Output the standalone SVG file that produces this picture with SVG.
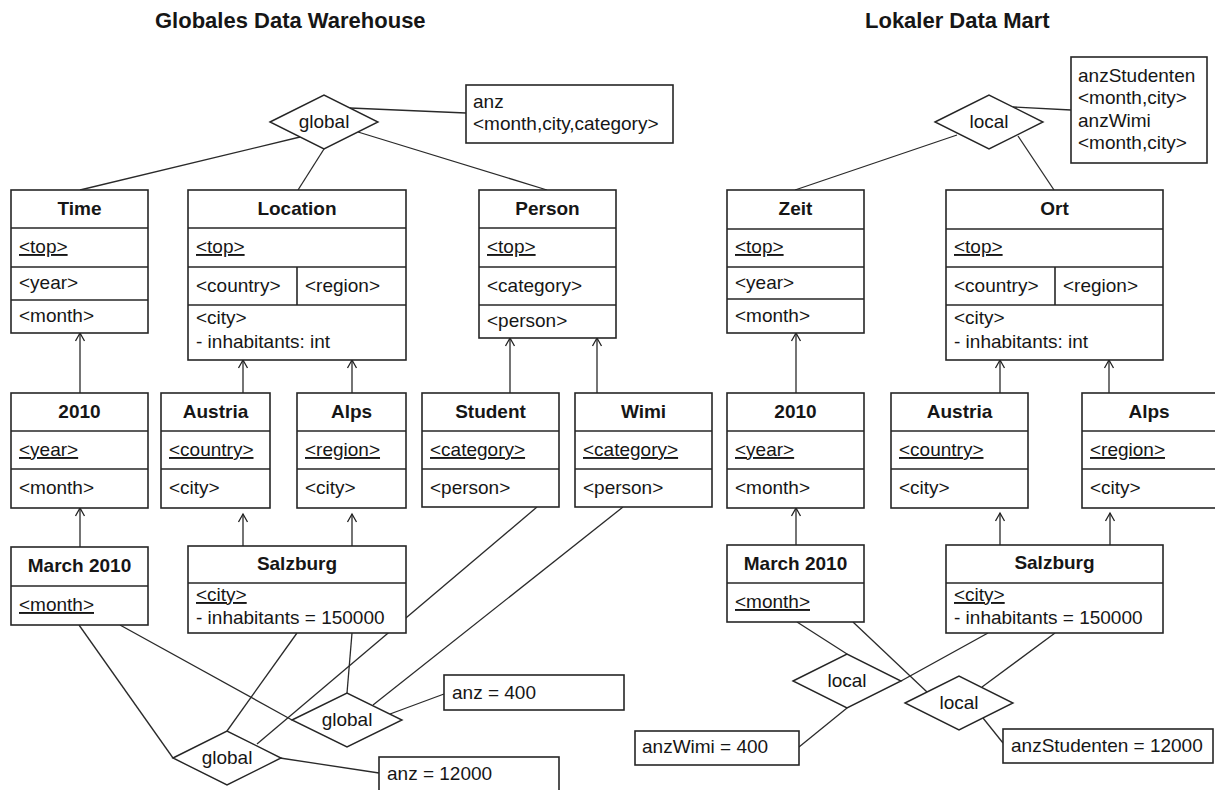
<svg xmlns="http://www.w3.org/2000/svg" width="1215" height="790" viewBox="0 0 1215 790">
  <style>
    text { font-family: "Liberation Sans", Arial, sans-serif; font-size: 19px; fill: #161616; }
    .title { font-size: 22px; font-weight: bold; }
    .h { font-weight: bold; text-anchor: middle; }
    .c { text-anchor: middle; }
    .u { text-decoration: underline; }
    .box { fill: #fff; stroke: #262626; stroke-width: 1.6; }
    .sep { stroke: #262626; stroke-width: 1.6; }
    .dia { fill: #fff; stroke: #262626; stroke-width: 1.4; }
    .conn line { stroke: #2a2a2a; stroke-width: 1.3; fill: none; }
    .arr { marker-end: url(#open); }
  </style>
  <defs>
    <marker id="open" viewBox="-10 -6 12 12" refX="0" refY="0" markerWidth="12" markerHeight="12" orient="auto" markerUnits="userSpaceOnUse">
      <path d="M-8,-4.5 L0,0 L-8,4.5" fill="none" stroke="#222" stroke-width="1.3"/>
    </marker>
  </defs>
  <rect width="1215" height="790" fill="#fff"/>

  <!-- headings -->
  <text x="155" y="28" class="title">Globales Data Warehouse</text>
  <text x="865" y="28" class="title">Lokaler Data Mart</text>

  <!-- connectors -->
  <g id="connectors" class="conn">
    <!-- global schema -->
    <line x1="350" y1="108" x2="466" y2="113"/>
    <line x1="300" y1="137" x2="80" y2="190"/>
    <line x1="324" y1="149" x2="298" y2="190"/>
    <line x1="358" y1="132" x2="547" y2="190"/>
    <line class="arr" x1="80" y1="393" x2="80" y2="333"/>
    <line class="arr" x1="243" y1="393" x2="243" y2="360"/>
    <line class="arr" x1="352" y1="393" x2="352" y2="360"/>
    <line class="arr" x1="510" y1="393" x2="510" y2="338"/>
    <line class="arr" x1="597" y1="393" x2="597" y2="338"/>
    <line class="arr" x1="80" y1="547" x2="80" y2="508"/>
    <line class="arr" x1="243" y1="546" x2="243" y2="514"/>
    <line class="arr" x1="352" y1="546" x2="352" y2="514"/>
    <line x1="79" y1="625" x2="173" y2="758"/>
    <line x1="120" y1="625" x2="292" y2="720"/>
    <line x1="297" y1="633" x2="227" y2="731"/>
    <line x1="352" y1="633" x2="347" y2="693"/>
    <line x1="537" y1="507" x2="257" y2="744"/>
    <line x1="623" y1="507" x2="373" y2="705"/>
    <line x1="390" y1="714" x2="444" y2="694"/>
    <line x1="280" y1="758" x2="379" y2="773"/>
    <!-- local schema -->
    <line x1="1013" y1="107" x2="1071" y2="110"/>
    <line x1="957" y1="135" x2="795" y2="190"/>
    <line x1="1018" y1="136" x2="1054" y2="190"/>
    <line class="arr" x1="796" y1="393" x2="796" y2="333"/>
    <line class="arr" x1="1000" y1="393" x2="1000" y2="360"/>
    <line class="arr" x1="1109" y1="393" x2="1109" y2="360"/>
    <line class="arr" x1="796" y1="545" x2="796" y2="508"/>
    <line class="arr" x1="1000" y1="545" x2="1000" y2="513"/>
    <line class="arr" x1="1110" y1="545" x2="1110" y2="513"/>
    <line x1="797" y1="622" x2="847" y2="654"/>
    <line x1="853" y1="622" x2="927" y2="692"/>
    <line x1="988" y1="633" x2="901" y2="681"/>
    <line x1="1055" y1="633" x2="982" y2="687"/>
    <line x1="983" y1="718" x2="1003" y2="743"/>
    <line x1="847" y1="708" x2="799" y2="747"/>
  </g>

  <!-- ===== global data warehouse ===== -->
  <g id="g-fact">
    <polygon class="dia" points="270,122 324,95 378,122 324,149"/>
    <text x="324" y="128" class="c">global</text>
  </g>
  <g id="g-fact-note">
    <rect class="box" x="466" y="85" width="207" height="58"/>
    <text x="473" y="108">anz</text>
    <text x="473" y="130">&lt;month,city,category&gt;</text>
  </g>

  <g id="g-time">
    <rect class="box" x="11" y="190" width="137" height="143"/>
    <line class="sep" x1="11" y1="228" x2="148" y2="228"/>
    <line class="sep" x1="11" y1="267" x2="148" y2="267"/>
    <line class="sep" x1="11" y1="300" x2="148" y2="300"/>
    <text x="79.5" y="215" class="h">Time</text>
    <text x="19" y="253" class="u">&lt;top&gt;</text>
    <text x="19" y="289">&lt;year&gt;</text>
    <text x="19" y="322">&lt;month&gt;</text>
  </g>

  <g id="g-location">
    <rect class="box" x="188" y="190" width="218" height="170"/>
    <line class="sep" x1="188" y1="228" x2="406" y2="228"/>
    <line class="sep" x1="188" y1="267" x2="406" y2="267"/>
    <line class="sep" x1="188" y1="305" x2="406" y2="305"/>
    <line class="sep" x1="297" y1="267" x2="297" y2="305"/>
    <text x="297" y="215" class="h">Location</text>
    <text x="196" y="253" class="u">&lt;top&gt;</text>
    <text x="196" y="292">&lt;country&gt;</text>
    <text x="305" y="292">&lt;region&gt;</text>
    <text x="196" y="324">&lt;city&gt;</text>
    <text x="196" y="348">- inhabitants: int</text>
  </g>

  <g id="g-person">
    <rect class="box" x="479" y="190" width="137" height="148"/>
    <line class="sep" x1="479" y1="228" x2="616" y2="228"/>
    <line class="sep" x1="479" y1="267" x2="616" y2="267"/>
    <line class="sep" x1="479" y1="305" x2="616" y2="305"/>
    <text x="547.5" y="215" class="h">Person</text>
    <text x="487" y="253" class="u">&lt;top&gt;</text>
    <text x="487" y="292">&lt;category&gt;</text>
    <text x="487" y="327">&lt;person&gt;</text>
  </g>

  <g id="g-2010">
    <rect class="box" x="11" y="393" width="137" height="115"/>
    <line class="sep" x1="11" y1="431" x2="148" y2="431"/>
    <line class="sep" x1="11" y1="469" x2="148" y2="469"/>
    <text x="79.5" y="418" class="h">2010</text>
    <text x="19" y="456" class="u">&lt;year&gt;</text>
    <text x="19" y="494">&lt;month&gt;</text>
  </g>

  <g id="g-austria">
    <rect class="box" x="161" y="393" width="109" height="115"/>
    <line class="sep" x1="161" y1="431" x2="270" y2="431"/>
    <line class="sep" x1="161" y1="469" x2="270" y2="469"/>
    <text x="215.5" y="418" class="h">Austria</text>
    <text x="169" y="456" class="u">&lt;country&gt;</text>
    <text x="169" y="494">&lt;city&gt;</text>
  </g>

  <g id="g-alps">
    <rect class="box" x="297" y="393" width="109" height="115"/>
    <line class="sep" x1="297" y1="431" x2="406" y2="431"/>
    <line class="sep" x1="297" y1="469" x2="406" y2="469"/>
    <text x="351.5" y="418" class="h">Alps</text>
    <text x="305" y="456" class="u">&lt;region&gt;</text>
    <text x="305" y="494">&lt;city&gt;</text>
  </g>

  <g id="g-student">
    <rect class="box" x="422" y="393" width="137" height="114"/>
    <line class="sep" x1="422" y1="431" x2="559" y2="431"/>
    <line class="sep" x1="422" y1="469" x2="559" y2="469"/>
    <text x="490.5" y="418" class="h">Student</text>
    <text x="430" y="456" class="u">&lt;category&gt;</text>
    <text x="430" y="494">&lt;person&gt;</text>
  </g>

  <g id="g-wimi">
    <rect class="box" x="575" y="393" width="137" height="114"/>
    <line class="sep" x1="575" y1="431" x2="712" y2="431"/>
    <line class="sep" x1="575" y1="469" x2="712" y2="469"/>
    <text x="643.5" y="418" class="h">Wimi</text>
    <text x="583" y="456" class="u">&lt;category&gt;</text>
    <text x="583" y="494">&lt;person&gt;</text>
  </g>

  <g id="g-march">
    <rect class="box" x="11" y="547" width="137" height="78"/>
    <line class="sep" x1="11" y1="586" x2="148" y2="586"/>
    <text x="79.5" y="572" class="h">March 2010</text>
    <text x="19" y="611" class="u">&lt;month&gt;</text>
  </g>

  <g id="g-salzburg">
    <rect class="box" x="188" y="546" width="218" height="87"/>
    <line class="sep" x1="188" y1="583" x2="406" y2="583"/>
    <text x="297" y="570" class="h">Salzburg</text>
    <text x="196" y="601" class="u">&lt;city&gt;</text>
    <text x="196" y="624">- inhabitants = 150000</text>
  </g>

  <g id="g-fact-wimi">
    <polygon class="dia" points="292,720 347,693 402,720 347,747"/>
    <text x="347" y="726" class="c">global</text>
  </g>
  <g id="g-fact-student">
    <polygon class="dia" points="173,758 227,731 281,758 227,785"/>
    <text x="227" y="764" class="c">global</text>
  </g>
  <g id="g-note-400">
    <rect class="box" x="444" y="675" width="180" height="35"/>
    <text x="452" y="699">anz = 400</text>
  </g>
  <g id="g-note-12000">
    <rect class="box" x="379" y="757" width="180" height="40"/>
    <text x="387" y="780">anz = 12000</text>
  </g>

  <!-- ===== local data mart ===== -->
  <g id="l-fact">
    <polygon class="dia" points="935,122 989,95 1043,122 989,149"/>
    <text x="989" y="128" class="c">local</text>
  </g>
  <g id="l-fact-note">
    <rect class="box" x="1071" y="57" width="136" height="106"/>
    <text x="1078" y="82">anzStudenten</text>
    <text x="1078" y="104">&lt;month,city&gt;</text>
    <text x="1078" y="127">anzWimi</text>
    <text x="1078" y="149">&lt;month,city&gt;</text>
  </g>

  <g id="l-zeit">
    <rect class="box" x="727" y="190" width="137" height="143"/>
    <line class="sep" x1="727" y1="229" x2="864" y2="229"/>
    <line class="sep" x1="727" y1="267" x2="864" y2="267"/>
    <line class="sep" x1="727" y1="299" x2="864" y2="299"/>
    <text x="795.5" y="215" class="h">Zeit</text>
    <text x="735" y="253" class="u">&lt;top&gt;</text>
    <text x="735" y="289">&lt;year&gt;</text>
    <text x="735" y="322">&lt;month&gt;</text>
  </g>

  <g id="l-ort">
    <rect class="box" x="946" y="190" width="217" height="170"/>
    <line class="sep" x1="946" y1="229" x2="1163" y2="229"/>
    <line class="sep" x1="946" y1="267" x2="1163" y2="267"/>
    <line class="sep" x1="946" y1="305" x2="1163" y2="305"/>
    <line class="sep" x1="1055" y1="267" x2="1055" y2="305"/>
    <text x="1054.5" y="215" class="h">Ort</text>
    <text x="954" y="253" class="u">&lt;top&gt;</text>
    <text x="954" y="292">&lt;country&gt;</text>
    <text x="1063" y="292">&lt;region&gt;</text>
    <text x="954" y="324">&lt;city&gt;</text>
    <text x="954" y="348">- inhabitants: int</text>
  </g>

  <g id="l-2010">
    <rect class="box" x="727" y="393" width="137" height="115"/>
    <line class="sep" x1="727" y1="431" x2="864" y2="431"/>
    <line class="sep" x1="727" y1="469" x2="864" y2="469"/>
    <text x="795.5" y="418" class="h">2010</text>
    <text x="735" y="456" class="u">&lt;year&gt;</text>
    <text x="735" y="494">&lt;month&gt;</text>
  </g>

  <g id="l-austria">
    <rect class="box" x="891" y="393" width="137" height="115"/>
    <line class="sep" x1="891" y1="431" x2="1028" y2="431"/>
    <line class="sep" x1="891" y1="469" x2="1028" y2="469"/>
    <text x="959.5" y="418" class="h">Austria</text>
    <text x="899" y="456" class="u">&lt;country&gt;</text>
    <text x="899" y="494">&lt;city&gt;</text>
  </g>

  <g id="l-alps">
    <rect class="box" x="1082" y="393" width="137" height="115"/>
    <line class="sep" x1="1082" y1="431" x2="1219" y2="431"/>
    <line class="sep" x1="1082" y1="469" x2="1219" y2="469"/>
    <text x="1149" y="418" class="h">Alps</text>
    <text x="1090" y="456" class="u">&lt;region&gt;</text>
    <text x="1090" y="494">&lt;city&gt;</text>
  </g>

  <g id="l-march">
    <rect class="box" x="727" y="545" width="137" height="77"/>
    <line class="sep" x1="727" y1="583" x2="864" y2="583"/>
    <text x="795.5" y="570" class="h">March 2010</text>
    <text x="735" y="608" class="u">&lt;month&gt;</text>
  </g>

  <g id="l-salzburg">
    <rect class="box" x="946" y="545" width="217" height="88"/>
    <line class="sep" x1="946" y1="583" x2="1163" y2="583"/>
    <text x="1054.5" y="569" class="h">Salzburg</text>
    <text x="954" y="601" class="u">&lt;city&gt;</text>
    <text x="954" y="624">- inhabitants = 150000</text>
  </g>

  <g id="l-fact-wimi">
    <polygon class="dia" points="793,681 847,654 901,681 847,708"/>
    <text x="847" y="687" class="c">local</text>
  </g>
  <g id="l-fact-student">
    <polygon class="dia" points="905,703 959,676 1013,703 959,730"/>
    <text x="959" y="709" class="c">local</text>
  </g>
  <g id="l-note-wimi">
    <rect class="box" x="635" y="731" width="164" height="34"/>
    <text x="642" y="753">anzWimi = 400</text>
  </g>
  <g id="l-note-student">
    <rect class="box" x="1003" y="729" width="210" height="34"/>
    <text x="1011" y="752">anzStudenten = 12000</text>
  </g>
</svg>
